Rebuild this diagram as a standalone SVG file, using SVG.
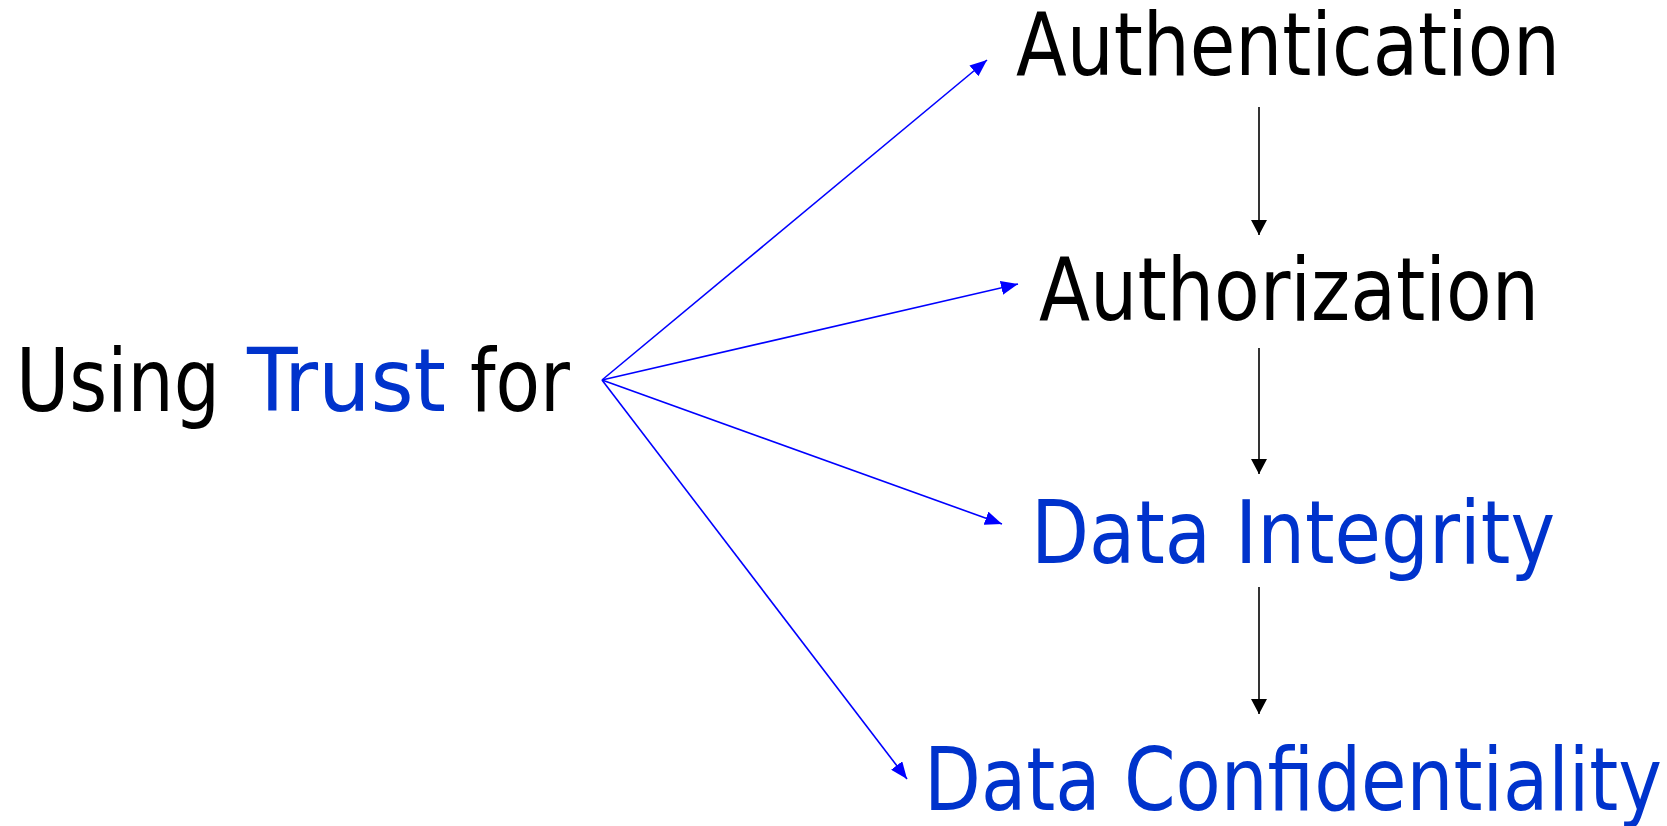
<svg xmlns="http://www.w3.org/2000/svg" width="1667" height="826" viewBox="0 0 1667 826">
  <style>
    text { font-family: "DejaVu Sans Condensed", "DejaVu Sans", sans-serif; font-stretch: condensed; font-size: 87px; }
    .dark { fill: #000000; }
    .accent { fill: #0033CC; }
    .fan { stroke: #0000FF; stroke-width: 1.6; fill: none; }
    .chain { stroke: #000000; stroke-width: 1.6; fill: none; }
  </style>
  <defs>
    <marker id="headBlue" markerUnits="userSpaceOnUse" markerWidth="18" markerHeight="14" refX="17" refY="7" orient="auto">
      <path d="M0,0 L17,7 L0,14 z" fill="#0000FF"/>
    </marker>
    <marker id="headBlack" markerUnits="userSpaceOnUse" markerWidth="16" markerHeight="16" refX="15" refY="8" orient="auto">
      <path d="M0,0 L15,8 L0,16 z" fill="#000000"/>
    </marker>
  </defs>

  <!-- source label -->
  <g id="source">
    <text class="dark" x="16" y="411" textLength="204" lengthAdjust="spacingAndGlyphs">Using</text>
    <text class="accent" x="247" y="411" textLength="199" lengthAdjust="spacingAndGlyphs">Trust</text>
    <text class="dark" x="470" y="411" textLength="100" lengthAdjust="spacingAndGlyphs">for</text>
  </g>

  <g id="authentication">
    <text class="dark" x="1016" y="75" textLength="544" lengthAdjust="spacingAndGlyphs">Authentication</text>
  </g>
  <g id="authorization">
    <text class="dark" x="1039" y="320" textLength="500" lengthAdjust="spacingAndGlyphs">Authorization</text>
  </g>
  <g id="data-integrity">
    <text class="accent" x="1031" y="563" textLength="524" lengthAdjust="spacingAndGlyphs">Data Integrity</text>
  </g>
  <g id="data-confidentiality">
    <text class="accent" x="924" y="810" textLength="738" lengthAdjust="spacingAndGlyphs">Data Confidentiality</text>
  </g>

  <!-- connectors -->
  <g id="connectors">
    <line class="fan" x1="602" y1="380" x2="987" y2="60" marker-end="url(#headBlue)"/>
    <line class="fan" x1="602" y1="380" x2="1018" y2="284" marker-end="url(#headBlue)"/>
    <line class="fan" x1="602" y1="380" x2="1002" y2="524" marker-end="url(#headBlue)"/>
    <line class="fan" x1="602" y1="380" x2="907" y2="779" marker-end="url(#headBlue)"/>
    <line class="chain" x1="1259" y1="107" x2="1259" y2="235" marker-end="url(#headBlack)"/>
    <line class="chain" x1="1259" y1="348" x2="1259" y2="474" marker-end="url(#headBlack)"/>
    <line class="chain" x1="1259" y1="587" x2="1259" y2="714" marker-end="url(#headBlack)"/>
  </g>
</svg>
